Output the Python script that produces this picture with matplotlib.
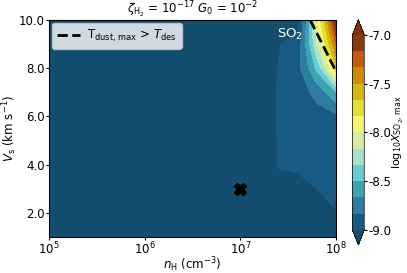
import numpy as np
import matplotlib
matplotlib.use("Agg")
import matplotlib.pyplot as plt
from matplotlib.colors import ListedColormap

plt.rcParams["axes.unicode_minus"] = False

# ── grid (log10 nH, Vs) and estimated log10 X(SO2) max ───────
log_nh = [5.0, 6.0, 7.0, 7.4, 7.6, 7.8, 8.0]
vs = [1, 2, 3, 4, 5, 6, 7, 8, 9, 10]
so2 = [
    [-9.3, -9.3, -9.3, -9.3, -9.3, -9.3, -9.3],     # Vs = 1
    [-9.3, -9.3, -9.3, -9.25, -9.2, -9.2, -9.01],   # 2
    [-9.3, -9.3, -9.3, -9.1, -9.1, -9.0, -8.95],    # 3
    [-9.3, -9.3, -9.3, -8.98, -8.95, -8.92, -8.9],  # 4
    [-9.3, -9.3, -9.3, -8.98, -8.95, -8.92, -8.9],  # 5
    [-9.3, -9.3, -9.3, -8.97, -8.93, -8.9, -8.87],  # 6
    [-9.3, -9.3, -9.3, -8.97, -8.9, -8.78, -8.5],   # 7
    [-9.3, -9.3, -9.3, -8.99, -8.88, -8.45, -7.7],  # 8
    [-9.3, -9.3, -9.3, -9.01, -8.93, -8.15, -7.3],  # 9
    [-9.3, -9.3, -9.3, -9.15, -9.08, -8.0, -6.9],   # 10
]

# T_dust,max = T_des boundary
tdes_nh = [5.35e7, 1.0e8]
tdes_vs = [10.0, 7.85]

# fiducial model
fid_nh = [1e7]
fid_vs = [3.0]

colors = ["#185b82", "#2e7ca0", "#3ba5b3", "#69cbd3", "#a3e3d0", "#d6eda0",
          "#f5f56e", "#e2e030", "#d4b90c", "#d18a04", "#c45c0a", "#8b3a0f"]
levels = np.linspace(-9, -7, 13)

cmap = ListedColormap(colors)
cmap.set_under("#134e6f")
cmap.set_over("#7f330b")

FS = 8.5

fig = plt.figure(figsize=(4.07, 2.73), dpi=100)
ax = fig.add_axes([0.120, 0.132, 0.706, 0.795])
cax = fig.add_axes([0.866, 0.103, 0.029, 0.824])

X, Y = np.meshgrid(10 ** np.array(log_nh), vs)
cs = ax.contourf(X, Y, np.array(so2), levels=levels, cmap=cmap,
                 extend="both")
ax.plot(tdes_nh, tdes_vs, "k--", lw=2,
        label=r"T$_{\rm dust,\,max}$ > $T_{\rm des}$")
ax.plot(fid_nh, fid_vs, "kX", ms=8)

ax.set_xscale("log")
ax.set_xlim(1e5, 1e8)
ax.set_ylim(1, 10)
ax.set_xticks([1e5, 1e6, 1e7, 1e8])
ax.set_yticks([2, 4, 6, 8, 10])
ax.set_yticklabels([f"{v:.1f}" for v in [2, 4, 6, 8, 10]])
ax.minorticks_off()
ax.tick_params(labelsize=FS, length=2, pad=1)
ax.set_xlabel(r"$n_{\rm H}$ (cm$^{-3}$)", fontsize=FS, labelpad=-2)
ax.set_ylabel(r"$V_{\rm s}$ (km s$^{-1}$)", fontsize=FS, labelpad=0)
ax.set_title(r"$\zeta_{\rm H_2}$ = $10^{-17}$ $G_0$ = $10^{-2}$",
             fontsize=FS, pad=2)
ax.text(0.84, 0.935, r"SO$_2$", color="white", fontsize=FS + 1,
        transform=ax.transAxes, ha="center", va="center")
ax.legend(loc="upper left", fontsize=FS, handlelength=2.0,
          borderaxespad=0.25, handletextpad=0.6)

cb = fig.colorbar(cs, cax=cax, extendfrac=0.077)
cb.set_ticks([-9.0, -8.5, -8.0, -7.5, -7.0])
cb.set_ticklabels(["-9.0", "-8.5", "-8.0", "-7.5", "-7.0"])
cb.ax.tick_params(labelsize=FS, length=2, pad=1)
cb.set_label(r"log$_{10}X_{\rm SO_2,\,max}$", fontsize=8, labelpad=0)
cb.outline.set_linewidth(0.5)

fig.savefig("out.png", dpi=100)
